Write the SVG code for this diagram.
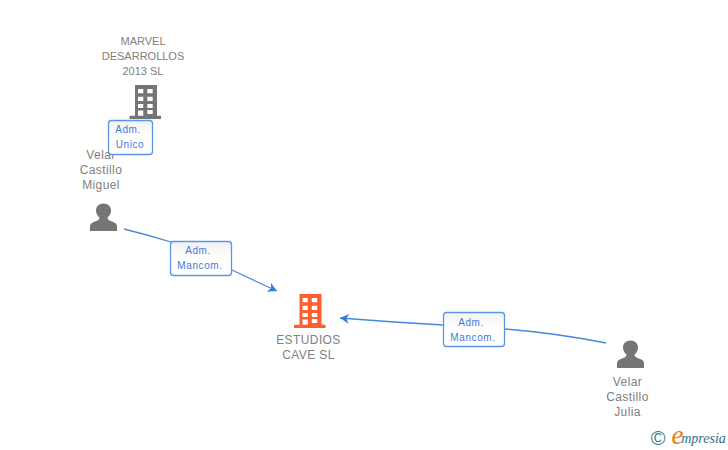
<svg xmlns="http://www.w3.org/2000/svg" width="728" height="450" viewBox="0 0 728 450">
<defs>
<linearGradient id="lg" x1="0" y1="0" x2="0" y2="1"><stop offset="0" stop-color="#f2f2f2"/><stop offset="0.5" stop-color="#ffffff"/></linearGradient>
<path id="b" fill-rule="evenodd" d="M-11 -17H11V13.700H15V17H-16.500V13.700H-11ZM-8 -13V-8.700H-2.700V-13ZM1.300 -13V-8.700H6.700V-13ZM-8 -5.300V-1H-2.700V-5.300ZM1.300 -5.300V-1H6.700V-5.300ZM-8 2V6H-2.700V2ZM1.300 2V6H6.700V2ZM-8 8.500V13.700H-2.700V8.500ZM1.300 8V12H6.700V8Z"/>
<path id="p" d="M0 -14C4.500 -14 7.500 -11 7.500 -7C7.500 -4 6 -1.500 4 0C4 2 5.500 3 8.500 4C12 5.200 13.500 6.500 13.500 9V13.500H-13.500V9C-13.500 6.500 -12 5.200 -8.500 4C-5.500 3 -4 2 -4 0C-6 -1.500 -7.500 -4 -7.500 -7C-7.500 -11 -4.500 -14 0 -14Z"/>
<marker id="ah" markerUnits="userSpaceOnUse" markerWidth="12" markerHeight="12" refX="9" refY="5" orient="auto"><path d="M0 0L9 5L0 10L2.500 5Z" fill="#3b7fdc"/></marker>
</defs>
<style>
text{font-family:"Liberation Sans",Arial,sans-serif;text-anchor:middle}
.n{font-size:12px;fill:#808080;letter-spacing:.4px}
.m{font-size:11px;fill:#808080}
.l{font-size:10px;fill:#3a7cd8;letter-spacing:.6px}
.c{fill:none;stroke:#4a88e0;stroke-width:1.300}
.r{fill:url(#lg);stroke:#5b96e6;stroke-width:1.300}
</style>
<g id="connectors">
<path class="c" d="M124 229Q148 235 171 242"/>
<path class="c" d="M232 270Q255 281 277 291" marker-end="url(#ah)"/>
<path class="c" d="M443 325Q390 322 340 318" marker-end="url(#ah)"/>
<path class="c" d="M505 329Q556 333 606 343"/>
</g>
<g id="node-marvel" fill="#757575">
<text class="m" x="143" y="45">MARVEL</text>
<text class="m" x="143" y="60">DESARROLLOS</text>
<text class="m" x="143" y="75">2013 SL</text>
<use href="#b" x="146" y="102"/>
</g>
<g id="node-miguel" fill="#757575">
<text class="n" x="101" y="159">Velar</text>
<text class="n" x="101" y="174">Castillo</text>
<text class="n" x="101" y="189">Miguel</text>
<use href="#p" x="103.500" y="217.500"/>
</g>
<g id="label-unico">
<rect class="r" x="108.500" y="120.500" width="44" height="34" rx="3"/>
<text class="l" x="128" y="133">Adm.</text>
<text class="l" x="130" y="148">Unico</text>
</g>
<g id="label-mancom1">
<rect class="r" x="170.500" y="241.500" width="61" height="34" rx="3"/>
<text class="l" x="198" y="254">Adm.</text>
<text class="l" x="200" y="269">Mancom.</text>
</g>
<g id="label-mancom2">
<rect class="r" x="443.500" y="312.500" width="61" height="34" rx="3"/>
<text class="l" x="471" y="326">Adm.</text>
<text class="l" x="473" y="341">Mancom.</text>
</g>
<g id="node-estudios" fill="#ff5f2e">
<use href="#b" x="310.500" y="311"/>
<text class="n" x="308.500" y="344">ESTUDIOS</text>
<text class="n" x="308.500" y="359">CAVE SL</text>
</g>
<g id="node-julia" fill="#757575">
<use href="#p" x="630.500" y="354.500"/>
<text class="n" x="627.500" y="386">Velar</text>
<text class="n" x="627.500" y="401">Castillo</text>
<text class="n" x="627.500" y="416">Julia</text>
</g>
<g id="logo">
<text x="658" y="445" style="font-size:20px;fill:#3b7a8c">©</text>
<text x="677.500" y="444" style="font-family:'Liberation Serif',serif;font-size:27px;font-style:italic;fill:#f07d10">e</text>
<text x="703.500" y="443" style="font-family:'Liberation Serif',serif;font-size:14px;font-style:italic;fill:#2e6f80">mpresia</text>
</g>
</svg>
